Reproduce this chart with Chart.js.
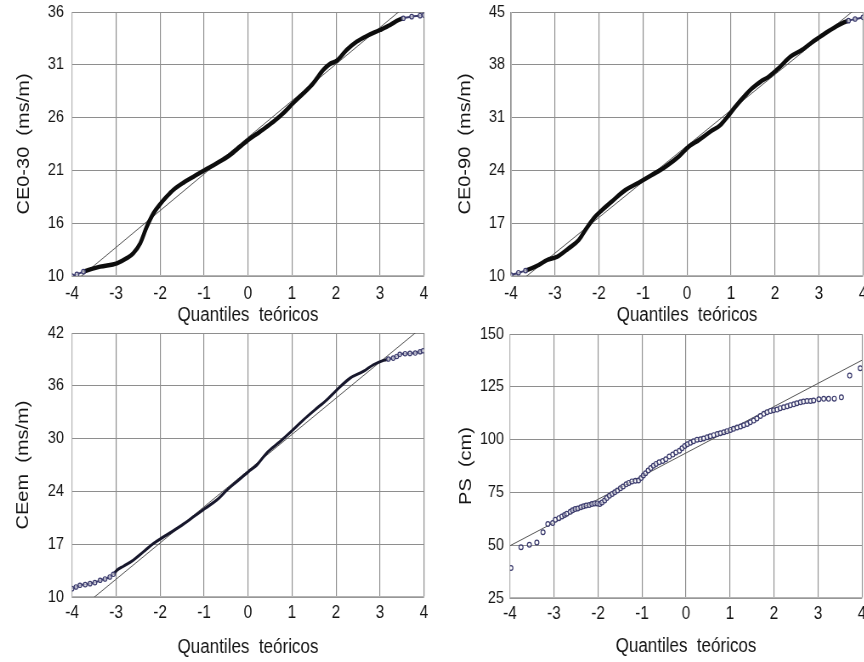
<!DOCTYPE html>
<html><head><meta charset="utf-8">
<script src="https://cdn.jsdelivr.net/npm/chart.js@4.4.1/dist/chart.umd.min.js"></script>
<style>
html,body{margin:0;padding:0;background:#fff;overflow:hidden;width:864px;height:662px;position:relative}
canvas{position:absolute}
</style></head><body>
<script>
// ---------- data ----------
const xTickLabels = ['-4','-3','-2','-1','0','1','2','3','4'];
const xAxisTitle = 'Quantiles  teóricos';

// Panel 1: CE0-30
const q1 = [-4.00,-3.89,-3.74,-3.36,-2.98,-2.76,-2.61,-2.45,-2.30,-2.15,-1.98,-1.85,-1.70,-1.47,-1.24,-0.98,-0.71,-0.41,-0.18,0.00,0.27,0.58,0.80,1.02,1.26,1.48,1.71,1.86,2.02,2.24,2.47,2.70,3.00,3.23,3.42,3.53,3.72,3.91,4.00];
const v1 = [10.00,10.16,10.43,10.92,11.25,11.74,12.23,13.22,14.86,16.17,17.16,17.81,18.47,19.19,19.78,20.44,21.10,21.92,22.74,23.39,24.21,25.20,26.02,27.00,27.99,28.97,30.29,30.88,31.21,32.26,33.08,33.64,34.23,34.72,35.21,35.38,35.54,35.64,35.70];
const line1Y = [9.21, 38.09];
const yLabels1 = ['10','16','21','26','31','36'];
const yTitle1 = 'CE0-30  (ms/m)';

// Panel 2: CE0-90
const q2 = [-4.00,-3.83,-3.67,-3.37,-3.18,-2.95,-2.69,-2.46,-2.31,-2.12,-1.93,-1.67,-1.40,-1.10,-0.80,-0.49,-0.19,0.04,0.27,0.53,0.76,0.92,1.10,1.33,1.48,1.67,1.86,2.08,2.35,2.61,2.84,3.03,3.22,3.45,3.67,3.82,4.00];
const v2 = [10.13,10.44,10.71,11.46,12.12,12.56,13.67,14.77,16.10,17.65,18.75,20.08,21.40,22.37,23.39,24.49,25.82,27.15,28.03,29.14,30.02,31.12,32.45,34.00,34.88,35.76,36.43,37.53,39.08,39.96,40.98,41.73,42.48,43.28,43.85,44.07,44.29];
const line2Y = [8.30, 46.20];
const yLabels2 = ['10','17','24','31','38','45'];
const yTitle2 = 'CE0-90  (ms/m)';

// Panel 3: CEem
const q3 = [-4.00,-3.91,-3.82,-3.70,-3.59,-3.48,-3.36,-3.25,-3.14,-3.06,-2.98,-2.83,-2.61,-2.38,-2.15,-1.92,-1.70,-1.47,-1.24,-0.98,-0.71,-0.48,-0.26,0.01,0.20,0.42,0.73,1.02,1.26,1.52,1.79,2.02,2.32,2.62,2.85,3.08,3.19,3.30,3.38,3.45,3.57,3.68,3.80,3.91,3.98];
const v3 = [11.01,11.22,11.42,11.50,11.62,11.74,12.03,12.19,12.43,12.75,13.24,13.73,14.46,15.47,16.48,17.29,18.02,18.83,19.72,20.73,21.75,22.96,23.97,25.19,26.00,27.42,28.84,30.25,31.47,32.68,33.90,35.11,36.53,37.34,38.15,38.68,38.84,38.96,39.16,39.41,39.49,39.53,39.57,39.73,39.85];
const line3Y = [7.76, 42.88];
const yLabels3 = ['10','17','24','30','36','42'];
const yTitle3 = 'CEem  (ms/m)';

// Panel 4: PS
const q4 = [-3.98,-3.75,-3.56,-3.39,-3.25,-3.14,-3.03,-2.97,-2.89,-2.82,-2.76,-2.71,-2.63,-2.58,-2.52,-2.46,-2.39,-2.33,-2.27,-2.20,-2.14,-2.08,-2.02,-1.96,-1.91,-1.85,-1.80,-1.74,-1.68,-1.62,-1.56,-1.49,-1.43,-1.36,-1.30,-1.23,-1.15,-1.08,-1.02,-0.97,-0.92,-0.86,-0.80,-0.74,-0.68,-0.61,-0.53,-0.46,-0.38,-0.30,-0.23,-0.15,-0.09,-0.03,0.03,0.10,0.17,0.25,0.33,0.40,0.48,0.55,0.63,0.71,0.78,0.86,0.93,1.01,1.08,1.16,1.24,1.31,1.39,1.46,1.54,1.61,1.69,1.77,1.84,1.92,1.99,2.07,2.14,2.22,2.30,2.37,2.45,2.52,2.60,2.67,2.75,2.83,2.90,3.02,3.13,3.24,3.37,3.53,3.72,3.96];
const v4 = [39.2,49.0,50.2,51.3,56.1,60.0,60.5,62.0,62.8,63.6,64.3,64.9,65.8,66.5,67.1,67.4,68.0,68.4,68.8,69.0,69.5,69.8,69.8,69.5,70.2,71.2,72.3,73.4,74.3,75.1,75.9,77.0,77.8,78.8,79.5,80.2,80.5,80.6,81.8,83.0,84.1,85.4,86.5,87.6,88.5,89.3,89.9,90.7,92.0,92.9,93.9,94.7,95.9,97.0,97.8,98.5,99.2,99.9,100.2,100.5,101.1,101.6,102.1,102.6,103.0,103.5,104.0,104.6,105.1,105.7,106.2,106.8,107.4,108.2,109.0,110.0,111.2,112.2,113.0,113.6,113.9,114.2,114.9,115.3,115.8,116.3,116.7,117.2,117.7,118.0,118.3,118.3,118.5,119.1,119.3,119.3,119.4,120.0,130.3,133.8];
const line4Y = [49.75, 137.6];
const yLabels4 = ['25','50','75','100','125','150'];
const yTitle4 = 'PS  (cm)';

const lineX = [-4, 4];

// ---------- rendering ----------
const SQUEEZE = 0.85;            // reference text is horizontally condensed
const FONT = '"Liberation Sans",Arial,sans-serif';
const TXT = '#141414';
const NAVY = '#3c3c6e';
const GRID = '#8e8e8e';

function pts(xs, ys){ return xs.map((x,i)=>({x:x, y:ys[i]})); }

function makeCanvas(left, top, cssW, h){
  const c = document.createElement('canvas');
  c.width = Math.round(cssW / SQUEEZE);
  c.height = h;
  c.style.left = left + 'px'; c.style.top = top + 'px';
  c.style.width = cssW + 'px'; c.style.height = h + 'px';
  document.body.appendChild(c);
  return c;
}

function makePanel(o){
  const cv = makeCanvas(o.left, o.top, o.cssW, o.h);
  const k = cv.width / o.cssW;
  const yMin = Number(o.yLabels[0]), yMax = Number(o.yLabels[o.yLabels.length-1]);
  const datasets = [{
    type:'line', data: pts(lineX, o.lineY), borderColor:'#555', borderWidth:1,
    pointRadius:0, fill:false, order:2
  }];
  if (o.curve){
    const isEnd = x => x < o.endLo || x > o.endHi;
    const segEnd = c => isEnd(c.p0.parsed.x) && isEnd(c.p1.parsed.x);
    datasets.push({
      type:'line', data: pts(o.q, o.v), showLine:true, fill:false, order:1,
      borderColor:o.col, borderWidth:o.lw, cubicInterpolationMode:'monotone',
      segment:{
        borderColor: c => segEnd(c) ? NAVY : o.col,
        borderWidth: c => segEnd(c) ? 2 : o.lw
      },
      pointRadius: c => (c.parsed && isEnd(c.parsed.x)) ? 2.2 : 0,
      pointBorderColor: NAVY, pointBackgroundColor:'rgba(255,255,255,0.6)', pointBorderWidth:1.2
    });
  } else {
    datasets.push({
      type:'scatter', data: pts(o.q, o.v), order:1, showLine:false,
      pointRadius:2.4, pointBorderColor:NAVY, pointBackgroundColor:'rgba(255,255,255,0.5)', pointBorderWidth:1.2
    });
  }
  const yTitleFont = 20, yTitleLH = yTitleFont * 1.2;
  new Chart(cv, {
    type:'scatter',
    data:{datasets},
    options:{
      responsive:false, animation:false, events:[],
      layout:{padding:{left:0, top:o.padTop, right:o.padRight * k, bottom:0}},
      plugins:{legend:{display:false}, tooltip:{enabled:false}},
      scales:{
        x:{
          type:'linear', min:-4, max:4,
          afterBuildTicks: s => { s.ticks = xTickLabels.map(l => ({value:Number(l)})); },
          afterFit: s => { s.height = o.xH; s.paddingLeft = 0; s.paddingRight = 0; },
          grid:{color:GRID, lineWidth:1.15, drawTicks:false},
          border:{display:true, color:'#b4b4b4', width:1.15},
          ticks:{autoSkip:false, maxRotation:0, minRotation:0, padding:o.xTickPad, color:TXT,
                 font:{family:FONT, size:18}, callback:(v,i)=>xTickLabels[i]},
          title:{display:true, text:xAxisTitle, color:TXT, font:{family:FONT, size:20},
                 padding:{top:0, bottom:o.xTitlePad}}
        },
        y:{
          type:'linear', min:yMin, max:yMax,
          afterBuildTicks: s => { s.ticks = o.yLabels.map((l,i)=>({value: yMin + i*(yMax-yMin)/(o.yLabels.length-1)})); },
          afterFit: s => { s.width = o.yW * k; s.paddingTop = 0; s.paddingBottom = 0; },
          grid:{color:GRID, lineWidth:1, drawTicks:false},
          border:{display:true, color:'#b4b4b4', width:1},
          ticks:{autoSkip:false, padding:o.yTickPad * k, color:TXT,
                 font:{family:FONT, size:17}, callback:(v,i)=>o.yLabels[i]},
          title:{display:true, text:o.yTitle, color:TXT, font:{family:FONT, size:yTitleFont},
                 padding:{top: o.yTitleX * k - yTitleLH/2, bottom:0}}
        }
      }
    }
  });
}

makePanel({left:0, top:0, cssW:432, h:340, q:q1, v:v1, lineY:line1Y, yLabels:yLabels1, yTitle:yTitle1,
  curve:true, lw:4.5, col:'#0d0d0d', endLo:-3.7, endHi:3.5,
  padTop:12, padRight:8, xH:64, yW:72, xTickPad:7, yTickPad:8, xTitlePad:13, yTitleX:24});
makePanel({left:432, top:0, cssW:440, h:340, q:q2, v:v2, lineY:line2Y, yLabels:yLabels2, yTitle:yTitle2,
  curve:true, lw:4.5, col:'#0d0d0d', endLo:-3.6, endHi:3.6,
  padTop:12, padRight:9, xH:64, yW:79, xTickPad:7, yTickPad:6, xTitlePad:13, yTitleX:33.5});
makePanel({left:0, top:320, cssW:432, h:342, q:q3, v:v3, lineY:line3Y, yLabels:yLabels3, yTitle:yTitle3,
  curve:true, lw:3, col:'#17172c', endLo:-3.0, endHi:3.1,
  padTop:13, padRight:8, xH:65, yW:72, xTickPad:5, yTickPad:8, xTitlePad:3, yTitleX:23});
makePanel({left:432, top:320, cssW:440, h:342, q:q4, v:v4, lineY:line4Y, yLabels:yLabels4, yTitle:yTitle4,
  curve:false,
  padTop:14, padRight:10, xH:64, yW:78, xTickPad:5, yTickPad:6, xTitlePad:4, yTitleX:34});
</script>
</body></html>
